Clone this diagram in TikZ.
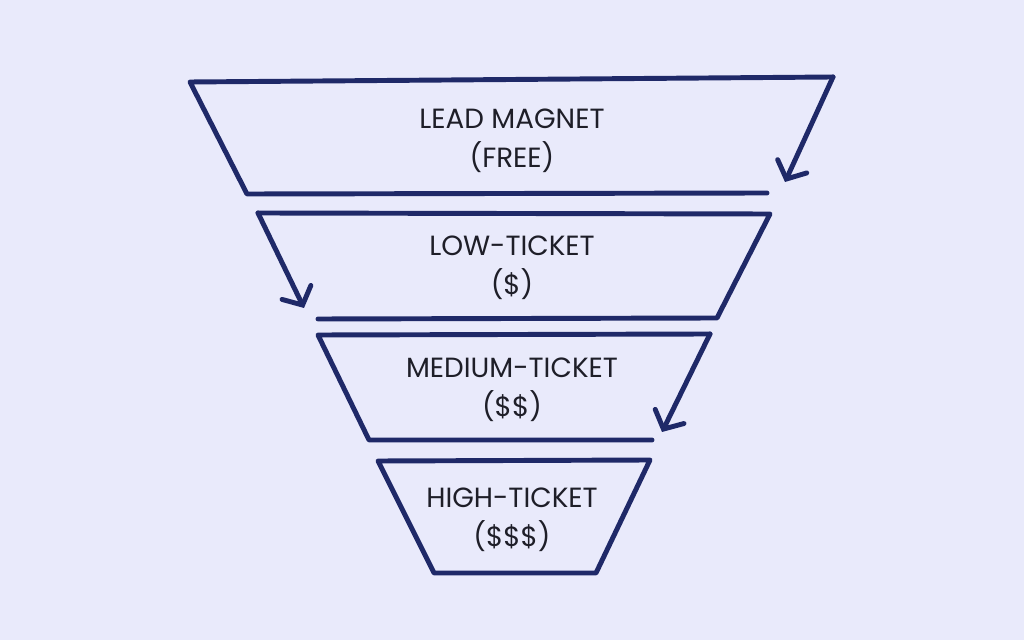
\documentclass[tikz,border=0pt]{standalone}
\usepackage{fontspec}
\setmainfont{Poppins}
\usepackage{tikz}
\usetikzlibrary{arrows.meta}
\definecolor{funnelbg}{RGB}{233,234,251}
\definecolor{funnelnavy}{RGB}{31,41,104}
\definecolor{funneltext}{RGB}{30,30,40}

\begin{document}
\begin{tikzpicture}[
  x=0.01cm, y=-0.01cm,
  font=\fontsize{7.9}{11}\selectfont,
  lbl/.style={text=funneltext, align=center, inner sep=0pt},
  edge/.style={draw=funnelnavy, line width=1.4pt, line cap=round, line join=round},
  ar/.style={edge, -{Straight Barb[length=1.4mm, width=3.2mm, line cap=round]}}
]
\fill[funnelbg] (0,0) rectangle (1024,640);
\useasboundingbox (0,0) rectangle (1024,640);

% Level 1
\coordinate (a1) at (190,82);
\coordinate (a2) at (833,77);
\coordinate (a3) at (785,182);
\coordinate (a4) at (247,194);
\coordinate (a5) at (767,193);
\node[lbl] (lead) at (512,141) {LEAD MAGNET\\(FREE)};

% Level 2
\coordinate (b1) at (258,213);
\coordinate (b2) at (770,214);
\coordinate (b3) at (717,318);
\coordinate (b4) at (318,319);
\coordinate (b5) at (304,308);
\node[lbl] (low) at (512,268) {LOW-TICKET\\(\$)};

% Level 3
\coordinate (c1) at (318,335);
\coordinate (c2) at (710,334);
\coordinate (c3) at (662,432);
\coordinate (c4) at (369,440);
\coordinate (c5) at (652,440);
\node[lbl] (medium) at (512,390) {MEDIUM-TICKET\\(\$\$)};

% Level 4
\coordinate (d1) at (378,461);
\coordinate (d2) at (650,460);
\coordinate (d3) at (596,573);
\coordinate (d4) at (434,573);
\node[lbl] (high) at (512,520) {HIGH-TICKET\\(\$\$\$)};

% Outlines
\draw[edge] (a5) -- (a4) -- (a1) -- (a2);
\draw[ar] (a2) -- (a3);
\draw[edge] (b1) -- (b2) -- (b3) -- (b4);
\draw[ar] (b1) -- (b5);
\draw[edge] (c5) -- (c4) -- (c1) -- (c2);
\draw[ar] (c2) -- (c3);
\draw[edge] (d1) -- (d2) -- (d3) -- (d4) -- cycle;
\end{tikzpicture}
\end{document}
